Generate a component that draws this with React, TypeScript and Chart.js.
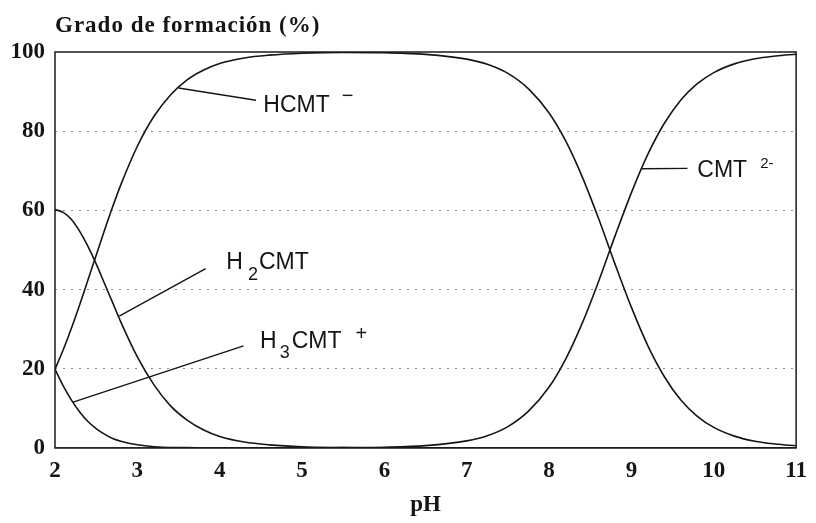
import React, { useEffect, useRef } from "react";
import { Chart, registerables } from "chart.js";

Chart.register(...registerables);

// ---- data ----
const pH = [2.0, 2.1, 2.2, 2.3, 2.4, 2.5, 2.6, 2.7, 2.8, 3.0, 3.2, 3.4, 3.6, 3.8, 4.0, 4.3, 4.6, 5.0, 5.5, 6.0, 6.5, 7.0, 7.25, 7.5, 7.75, 8.0, 8.2, 8.4, 8.6, 8.8, 9.0, 9.2, 9.4, 9.6, 9.8, 10.0, 10.25, 10.5, 10.75, 11.0];
const h3cmt = [19.9, 15.7, 12.1, 9.1, 6.7, 4.9, 3.5, 2.4, 1.7, 0.8, 0.3, 0.1, 0.1, 0, 0, 0, 0, 0, 0, 0, 0, 0, 0, 0, 0, 0, 0, 0, 0, 0, 0, 0, 0, 0, 0, 0, 0, 0, 0, 0];
const h2cmt = [60.2, 59.5, 57.7, 54.7, 50.9, 46.5, 41.6, 36.7, 31.8, 23.0, 16.0, 10.7, 7.1, 4.6, 2.9, 1.5, 0.8, 0.3, 0.1, 0, 0, 0, 0, 0, 0, 0, 0, 0, 0, 0, 0, 0, 0, 0, 0, 0, 0, 0, 0, 0];
const hcmt = [19.9, 24.8, 30.3, 36.2, 42.4, 48.7, 54.9, 60.9, 66.5, 76.2, 83.7, 89.1, 92.9, 95.4, 97.1, 98.5, 99.2, 99.7, 99.9, 99.8, 99.4, 98.2, 96.9, 94.6, 90.7, 84.6, 77.6, 68.6, 58.0, 46.5, 35.5, 25.8, 18.0, 12.1, 8.0, 5.2, 3.0, 1.7, 1.0, 0.55];
const cmt = [0, 0, 0, 0, 0, 0, 0, 0, 0, 0, 0, 0, 0, 0, 0, 0, 0, 0, 0.1, 0.2, 0.6, 1.8, 3.1, 5.4, 9.3, 15.4, 22.4, 31.4, 42.0, 53.5, 64.5, 74.2, 82.0, 87.9, 92.0, 94.8, 97.0, 98.3, 99.0, 99.45];

const xMin = 2;
const xMax = 11;
const xStep = 1;
const yMin = 0;
const yMax = 100;
const yStep = 20;

const chartTitle = "Grado de formación (%)";
const xTitle = "pH";

// callout labels: pointer from a curve point to a text anchor (data units)
type Part = { t: string; size: number; dy: number; gap: number };
type Callout = { from: [number, number]; to: [number, number]; at: [number, number]; parts: Part[] };

const callouts: Callout[] = [
  {
    from: [3.5, 90.9], to: [4.44, 87.8], at: [4.53, 84.8],
    parts: [
      { t: "HCMT", size: 23, dy: 0, gap: 0 },
      { t: "\u2212", size: 20, dy: -10, gap: 12 },
    ],
  },
  {
    from: [2.78, 33.3], to: [3.83, 45.3], at: [4.08, 45.3],
    parts: [
      { t: "H", size: 23, dy: 0, gap: 0 },
      { t: "2", size: 18, dy: 11, gap: 5 },
      { t: "CMT", size: 23, dy: 0, gap: 1 },
    ],
  },
  {
    from: [2.22, 11.6], to: [4.29, 25.8], at: [4.49, 25.3],
    parts: [
      { t: "H", size: 23, dy: 0, gap: 0 },
      { t: "3", size: 18, dy: 10, gap: 3 },
      { t: "CMT", size: 23, dy: 0, gap: 2 },
      { t: "+", size: 20, dy: -8, gap: 14 },
    ],
  },
  {
    from: [9.12, 70.5], to: [9.68, 70.6], at: [9.8, 68.35],
    parts: [
      { t: "CMT", size: 23, dy: 0, gap: 0 },
      { t: "2-", size: 15, dy: -9.5, gap: 13 },
    ],
  },
];

const serif = '"Liberation Serif", "DejaVu Serif", serif';
const sans = '"Liberation Sans", Arial, sans-serif';
const ink = "#151515";

const overlayPlugin = {
  id: "overlay",
  afterDatasetsDraw(chart: any) {
    const { ctx, chartArea, scales } = chart;
    const xs = scales.x;
    const ys = scales.y;
    ctx.save();
    // frame
    ctx.strokeStyle = "#1a1a1a";
    ctx.lineWidth = 1.5;
    ctx.strokeRect(chartArea.left, chartArea.top, chartArea.right - chartArea.left, chartArea.bottom - chartArea.top);
    // title
    ctx.fillStyle = ink;
    ctx.textAlign = "left";
    ctx.textBaseline = "alphabetic";
    ctx.font = `bold 23px ${serif}`;
    try { (ctx as any).letterSpacing = "1px"; } catch (e) {}
    ctx.fillText(chartTitle, chartArea.left, chartArea.top - 20);
    try { (ctx as any).letterSpacing = "0px"; } catch (e) {}
    // callouts
    ctx.strokeStyle = ink;
    ctx.lineWidth = 1.4;
    for (const c of callouts) {
      ctx.beginPath();
      ctx.moveTo(xs.getPixelForValue(c.from[0]), ys.getPixelForValue(c.from[1]));
      ctx.lineTo(xs.getPixelForValue(c.to[0]), ys.getPixelForValue(c.to[1]));
      ctx.stroke();
      let px = xs.getPixelForValue(c.at[0]);
      const py = ys.getPixelForValue(c.at[1]);
      for (const p of c.parts) {
        px += p.gap;
        ctx.font = `${p.size}px ${sans}`;
        ctx.fillText(p.t, px, py + p.dy);
        px += ctx.measureText(p.t).width;
      }
    }
    ctx.restore();
  },
};

export default function App() {
  const ref = useRef<HTMLCanvasElement | null>(null);

  useEffect(() => {
    if (!ref.current) return;
    const mk = (vals: number[]) => pH.map((x, i) => ({ x, y: vals[i] }));
    const lineStyle = {
      borderColor: ink,
      borderWidth: 1.6,
      pointRadius: 0,
      fill: false,
      cubicInterpolationMode: "monotone" as const,
    };
    const tickFont = { family: serif, weight: "bold" as const, size: 23 };
    const chart = new Chart(ref.current, {
      type: "line",
      data: {
        datasets: [
          { label: "H3CMT+", data: mk(h3cmt), ...lineStyle },
          { label: "H2CMT", data: mk(h2cmt), ...lineStyle },
          { label: "HCMT-", data: mk(hcmt), ...lineStyle },
          { label: "CMT2-", data: mk(cmt), ...lineStyle },
        ],
      },
      options: {
        animation: false,
        responsive: false,
        devicePixelRatio: 1,
        layout: { padding: { top: 52, right: 13, left: 0, bottom: 0 } },
        plugins: {
          legend: { display: false },
          tooltip: { enabled: false },
          title: { display: false },
        },
        scales: {
          x: {
            type: "linear",
            min: xMin,
            max: xMax,
            ticks: { stepSize: xStep, font: tickFont, color: ink, padding: 9, maxRotation: 0 },
            grid: { display: false, drawTicks: false },
            border: { display: false },
            title: {
              display: true,
              text: xTitle,
              font: tickFont,
              color: ink,
              padding: { top: 0, bottom: 4 },
            },
            afterFit: (s: any) => { s.height = 75; },
          },
          y: {
            type: "linear",
            min: yMin,
            max: yMax,
            ticks: { stepSize: yStep, font: tickFont, color: ink, padding: 10 },
            grid: {
              drawTicks: false,
              lineWidth: 1,
              color: (c: any) => (c.tick && (c.tick.value === yMin || c.tick.value === yMax) ? "rgba(0,0,0,0)" : "#8c8c8c"),
            },
            border: { display: false, dash: [2, 6] },
            afterFit: (s: any) => { s.width = 55; },
          },
        },
      },
      plugins: [overlayPlugin],
    });
    return () => chart.destroy();
  }, []);

  return (
    <div style={{ position: "fixed", left: 0, top: 0, width: 816, height: 523, background: "#fff" }}>
      <canvas ref={ref} width={816} height={523} style={{ display: "block", width: 816, height: 523 }} />
    </div>
  );
}
